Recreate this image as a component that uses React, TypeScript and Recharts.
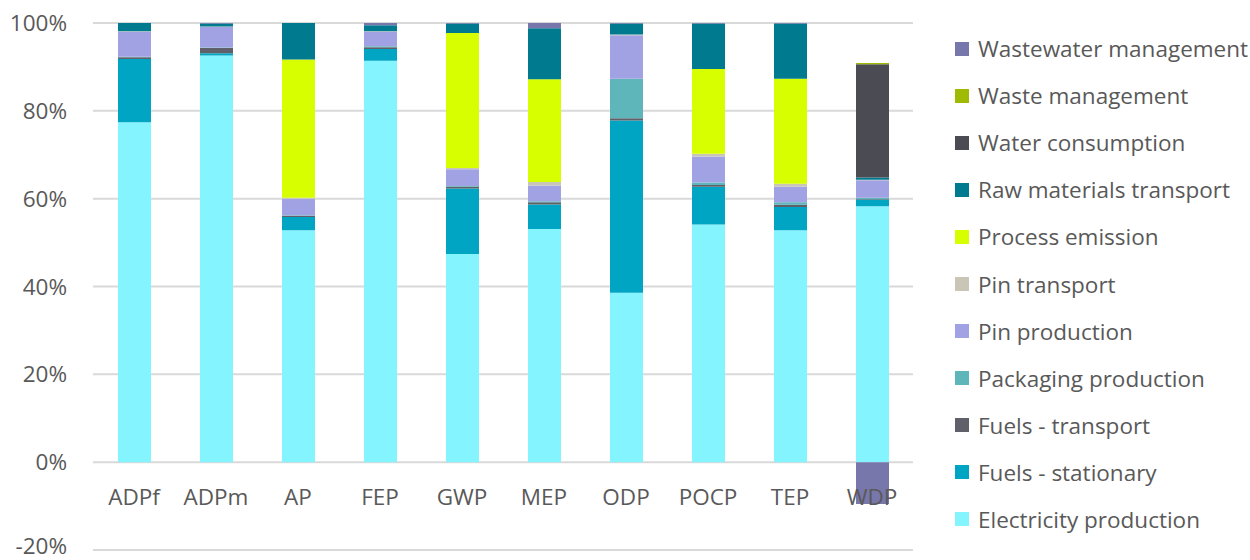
import { Bar, BarChart, CartesianGrid, XAxis, YAxis } from "recharts";

const categories = ["ADPf", "ADPm", "AP", "FEP", "GWP", "MEP", "ODP", "POCP", "TEP", "WDP"];

// values in % per category, bottom of the stack first
const electricity = [77.4, 92.6, 52.8, 91.4, 47.4, 53.1, 38.6, 54.1, 52.8, 58.3];
const fuelsStationary = [14.4, 0.5, 3.0, 2.7, 14.9, 5.6, 39.2, 8.6, 5.3, 1.5];
const fuelsTransport = [0.4, 1.2, 0.3, 0.4, 0.4, 0.5, 0.5, 0.4, 0.5, 0.1];
const packaging = [0.1, 0.1, 0.1, 0.2, 0.2, 0.2, 9.0, 0.6, 0.6, 0.3];
const pinProduction = [5.7, 4.7, 3.8, 3.3, 3.8, 3.6, 9.9, 5.9, 3.5, 4.0];
const pinTransport = [0.1, 0.1, 0.2, 0.1, 0.3, 0.8, 0.2, 0.6, 0.7, 0.1];
const processEmission = [0, 0, 31.5, 0, 30.7, 23.4, 0, 19.3, 23.9, 0];
const rawTransport = [1.9, 0.7, 8.3, 1.4, 2.2, 11.6, 2.5, 10.4, 12.6, 0.5];
const waterConsumption = [0, 0, 0, 0, 0, 0, 0, 0, 0, 25.8];
const wasteManagement = [0, 0, 0, 0, 0, 0, 0, 0, 0, 0.3];
const wastewater = [0, 0.1, 0, 0.5, 0.1, 1.2, 0.1, 0.1, 0.1, -9.5];

const yTicks = [-20, 0, 20, 40, 60, 80, 100];

const series = [
  { key: "electricity", name: "Electricity production", color: "#84F4FF", values: electricity },
  { key: "fuelsStationary", name: "Fuels - stationary", color: "#00A5C3", values: fuelsStationary },
  { key: "fuelsTransport", name: "Fuels - transport", color: "#5F6069", values: fuelsTransport },
  { key: "packaging", name: "Packaging production", color: "#5EB6BA", values: packaging },
  { key: "pinProduction", name: "Pin production", color: "#A1A2E3", values: pinProduction },
  { key: "pinTransport", name: "Pin transport", color: "#C9C6B7", values: pinTransport },
  { key: "processEmission", name: "Process emission", color: "#D7FF00", values: processEmission },
  { key: "rawTransport", name: "Raw materials transport", color: "#007A8F", values: rawTransport },
  { key: "waterConsumption", name: "Water consumption", color: "#4B4B53", values: waterConsumption },
  { key: "wasteManagement", name: "Waste management", color: "#9FBA00", values: wasteManagement },
  { key: "wastewater", name: "Wastewater management", color: "#7877AB", values: wastewater },
];

const data = categories.map((name, i) => {
  const row: Record<string, string | number> = { name };
  series.forEach((s) => {
    row[s.key] = s.values[i];
  });
  return row;
});

const FONT = "'Open Sans', sans-serif";
const TEXT = "#595959";
const SIZE = 22.5;

const CategoryTick = ({ x, y, payload }: any) => (
  <text x={x} y={y} dy={-45} textAnchor="middle" fill={TEXT} fontSize={SIZE} fontFamily={FONT}>
    {payload.value}
  </text>
);

// lowest label sits at the bottom edge, lift it a little so it stays inside
const PercentTick = ({ x, y, payload }: any) => (
  <text
    x={x}
    y={y}
    dy={payload.value === -20 ? 4 : 8}
    textAnchor="end"
    fill={TEXT}
    fontSize={SIZE}
    fontFamily={FONT}
  >
    {`${payload.value}%`}
  </text>
);

export default function App() {
  return (
    <div style={{ position: "absolute", left: 0, top: 0, width: 1250, height: 560, background: "#fff" }}>
      <BarChart
        width={1250}
        height={560}
        data={data}
        stackOffset="sign"
        barSize={33}
        margin={{ top: 23, right: 337, bottom: 9, left: 8 }}
      >
        <CartesianGrid vertical={false} stroke="#D9D9D9" strokeWidth={2} />
        <XAxis
          dataKey="name"
          height={1}
          axisLine={false}
          tickLine={false}
          tickSize={0}
          tickMargin={0}
          tick={<CategoryTick />}
          interval={0}
        />
        <YAxis
          width={85}
          domain={[-20, 100]}
          ticks={yTicks}
          interval={0}
          axisLine={false}
          tickLine={false}
          tickSize={0}
          tickMargin={26}
          tick={<PercentTick />}
        />
        {series.map((s) => (
          <Bar key={s.key} dataKey={s.key} name={s.name} stackId="a" fill={s.color} isAnimationActive={false} />
        ))}
      </BarChart>
      <div style={{ position: "absolute", left: 955, top: 25, fontFamily: FONT, fontSize: SIZE, color: TEXT }}>
        {[...series].reverse().map((s) => (
          <div key={s.key} style={{ display: "flex", alignItems: "center", height: 47.1, whiteSpace: "nowrap" }}>
            <span style={{ width: 14, height: 14, background: s.color, marginRight: 9, display: "inline-block" }} />
            {s.name}
          </div>
        ))}
      </div>
    </div>
  );
}
